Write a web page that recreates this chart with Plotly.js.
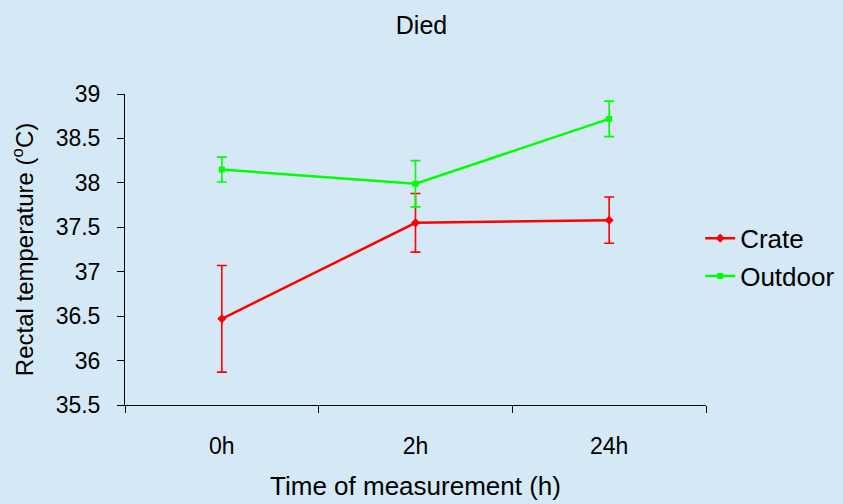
<!DOCTYPE html>
<html>
<head>
<meta charset="utf-8">
<script src="https://cdn.plot.ly/plotly-3.0.1.min.js"></script>
<style>
  html, body { margin: 0; padding: 0; background: #d4e9f5; }
  #chart { width: 843px; height: 504px; }
</style>
</head>
<body>
<div id="chart"></div>
<script>
// Measurement times (categories)
const times = ["0h", "2h", "24h"];

// Mean rectal temperature (°C) per housing group, with error half-widths
const crateMean = [36.47, 37.55, 37.58];
const crateErr = [0.60, 0.33, 0.26];

const outdoorMean = [38.15, 37.99, 38.72];
const outdoorErr = [0.14, 0.26, 0.20];

const yTicks = [35.5, 36, 36.5, 37, 37.5, 38, 38.5, 39];

const font = "Liberation Sans, Arial, sans-serif";

const traces = [
  {
    x: times, y: crateMean, name: "Crate", type: "scatter", mode: "lines+markers",
    legendgroup: "a",
    line: { color: "#ff0000", width: 2.5 },
    marker: { symbol: "diamond", size: 7, color: "#ff0000" },
    error_y: { type: "data", array: crateErr, visible: true, color: "#ff0000", thickness: 1.6, width: 5 }
  },
  {
    x: times, y: outdoorMean, name: "Outdoor", type: "scatter", mode: "lines+markers",
    legendgroup: "b",
    line: { color: "#00ff00", width: 2.5 },
    marker: { symbol: "square", size: 6, color: "#00ff00" },
    error_y: { type: "data", array: outdoorErr, visible: true, color: "#00ff00", thickness: 1.6, width: 5 }
  }
];

const layout = {
  width: 843, height: 504,
  paper_bgcolor: "#d4e9f5", plot_bgcolor: "#d4e9f5",
  margin: { l: 125, r: 137, t: 94, b: 99, autoexpand: false },
  font: { family: font, size: 23, color: "#000" },
  title: { text: "Died", x: 0.5, xanchor: "center", y: 0.95, yanchor: "middle", font: { family: font, size: 25 } },
  xaxis: {
    type: "category", range: [-0.5, 2.5],
    tickson: "boundaries", ticks: "outside", ticklen: 7, tickcolor: "#000", tickwidth: 1,
    showline: true, linecolor: "#000", linewidth: 1, showgrid: false, zeroline: false,
    ticklabelstandoff: 20,
    tickfont: { family: font, size: 23 },
    title: { text: "Time of measurement (h)", font: { family: font, size: 26 }, standoff: 19 }
  },
  yaxis: {
    range: [35.5, 39], tickvals: yTicks, ticktext: yTicks.map(String),
    ticks: "outside", ticklen: 7, tickcolor: "#000", tickwidth: 1,
    showline: true, linecolor: "#000", linewidth: 1, showgrid: false, zeroline: false,
    ticklabelstandoff: 12,
    tickfont: { family: font, size: 23 },
    title: { text: "Rectal temperature (<sup>o</sup>C)", font: { family: font, size: 24 }, standoff: 15 }
  },
  showlegend: true,
  legend: {
    x: 0.99, xanchor: "left", y: 0.475, yanchor: "middle",
    bgcolor: "rgba(0,0,0,0)", font: { family: font, size: 26 },
    tracegroupgap: 1, itemwidth: 30
  }
};

Plotly.newPlot("chart", traces, layout, { displayModeBar: false, staticPlot: true });
</script>
</body>
</html>
